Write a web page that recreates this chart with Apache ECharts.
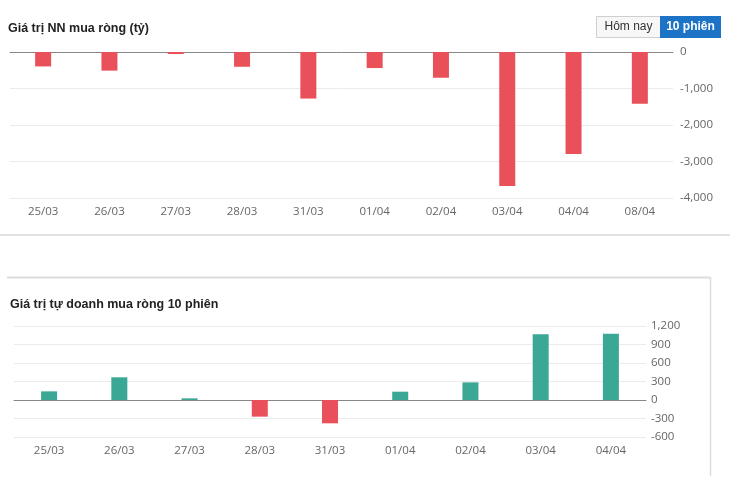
<!DOCTYPE html>
<html><head><meta charset="utf-8">
<script src="https://cdn.jsdelivr.net/npm/echarts@6/dist/echarts.min.js"></script>
<style>html,body{margin:0;padding:0;background:#fff;}#c{width:730px;height:479px;}</style>
</head><body><div id="c"></div>
<script>
var datesNN = ['25/03','26/03','27/03','28/03','31/03','01/04','02/04','03/04','04/04','08/04'];
var valuesNN = [-395,-510,-55,-405,-1275,-440,-705,-3670,-2795,-1420];
var datesTD = ['25/03','26/03','27/03','28/03','31/03','01/04','02/04','03/04','04/04'];
var valuesTD = [140,368,27,-270,-378,135,286,1065,1076];
var titleNN = 'Giá trị NN mua ròng (tỷ)';
var titleTD = 'Giá trị tự doanh mua ròng 10 phiên';
var RED = '#e9505a', TEAL = '#3ba795';
var fmt = function(v){ return v.toLocaleString('en-US'); };
var labelStyle = {color:'#666', fontSize:11.5, fontFamily:'Open Sans, Arial, sans-serif'};

var chart = echarts.init(document.getElementById('c'), null, {renderer:'canvas'});
chart.setOption({
  animation:false,
  backgroundColor:'#fff',
  title:[
    {text:titleNN, left:8, top:22, padding:0, textStyle:{fontSize:12.5, fontWeight:'bold', color:'#222', fontFamily:'Arial, Liberation Sans, sans-serif'}},
    {text:titleTD, left:10, top:298, padding:0, textStyle:{fontSize:12.5, fontWeight:'bold', color:'#222', fontFamily:'Arial, Liberation Sans, sans-serif'}}
  ],
  graphic:[
    {type:'rect', shape:{x:596.5,y:16.5,width:64,height:21}, style:{fill:'#f7f7f7', stroke:'#cfcfcf', lineWidth:1}},
    {type:'text', style:{x:628.5,y:27,text:'Hôm nay', align:'center', verticalAlign:'middle', fill:'#333', font:'12px Arial, Liberation Sans, sans-serif'}},
    {type:'rect', shape:{x:660,y:16,width:61,height:22}, style:{fill:'#1d74c6'}},
    {type:'text', style:{x:690.5,y:27,text:'10 phiên', align:'center', verticalAlign:'middle', fill:'#fff', font:'bold 12px Arial, Liberation Sans, sans-serif'}},
    {type:'rect', shape:{x:0,y:234,width:730,height:2}, style:{fill:'#e2e2e2'}},
    {type:'line', shape:{x1:7,y1:277.5,x2:710,y2:277.5}, style:{stroke:'#dcdcdc', lineWidth:2}},
    {type:'line', shape:{x1:710.5,y1:277,x2:710.5,y2:476}, style:{stroke:'#dcdcdc', lineWidth:1.5}}
  ],
  grid:[
    {left:10, right:57, top:52, height:146},
    {left:14, right:84, top:326, height:111}
  ],
  xAxis:[
    {type:'category', gridIndex:0, data:datesNN, axisTick:{show:false},
     axisLine:{show:true, onZero:true, lineStyle:{color:'#888', width:1}},
     axisLabel:Object.assign({margin:8, interval:0}, labelStyle), position:'bottom'},
    {type:'category', gridIndex:1, data:datesTD, axisTick:{show:false},
     axisLine:{show:true, onZero:true, lineStyle:{color:'#888', width:1}},
     axisLabel:Object.assign({margin:8, interval:0}, labelStyle), position:'bottom'}
  ],
  yAxis:[
    {type:'value', gridIndex:0, position:'right', min:-4000, max:0, interval:1000,
     axisLine:{show:false}, axisTick:{show:false},
     splitLine:{lineStyle:{color:'#ebebeb'}},
     axisLabel:Object.assign({margin:7, formatter:fmt}, labelStyle)},
    {type:'value', gridIndex:1, position:'right', min:-600, max:1200, interval:300,
     axisLine:{show:false}, axisTick:{show:false},
     splitLine:{lineStyle:{color:'#ebebeb'}},
     axisLabel:Object.assign({margin:5, formatter:fmt}, labelStyle)}
  ],
  series:[
    {type:'bar', xAxisIndex:0, yAxisIndex:0, data:valuesNN, barWidth:16,
     itemStyle:{color:RED}},
    {type:'bar', xAxisIndex:1, yAxisIndex:1, data:valuesTD, barWidth:16,
     itemStyle:{color:function(p){ return p.value >= 0 ? TEAL : RED; }}}
  ]
});
</script></body></html>
